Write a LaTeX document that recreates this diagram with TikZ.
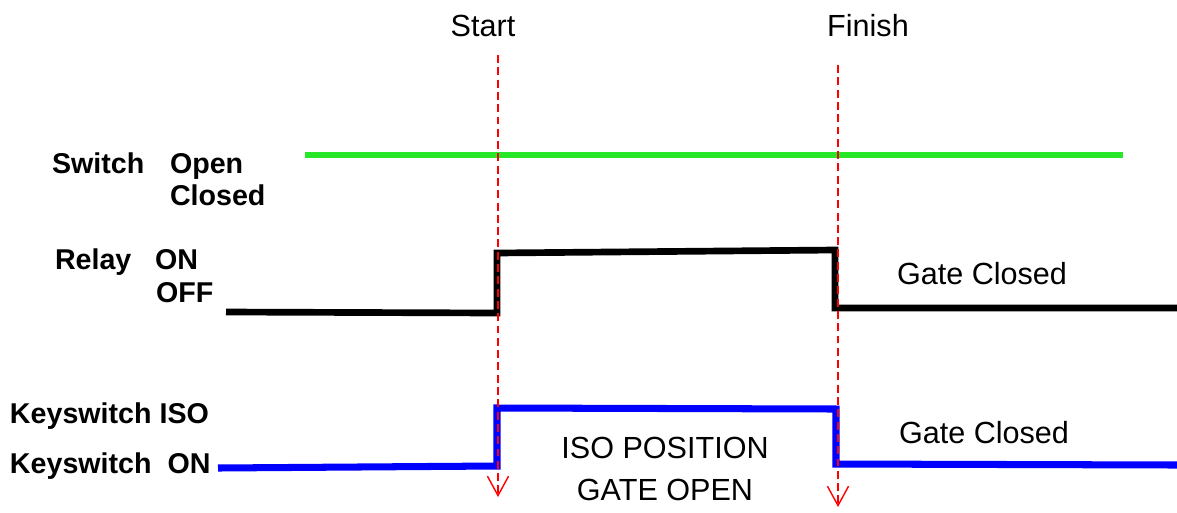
\documentclass[tikz,border=0pt]{standalone}
\usepackage{fontspec}
\setmainfont{Liberation Sans}
\usetikzlibrary{arrows.meta}
\definecolor{sigblue}{RGB}{0,0,255}
\definecolor{siggreen}{RGB}{40,230,40}
\definecolor{markred}{RGB}{255,0,0}

\begin{document}
\begin{tikzpicture}[
    x=0.02cm, y=-0.02cm,
    every node/.style={inner sep=0pt, outer sep=0pt},
    signame/.style={anchor=base west, font=\fontsize{16.3}{18}\selectfont\bfseries},
    note/.style={anchor=base, font=\fontsize{17.4}{20}\selectfont},
    trace/.style={line width=3.8pt, line join=miter},
    marker/.style={markred, line width=0.8pt, dash pattern=on 4.5pt off 2.5pt,
        -{Straight Barb[length=11pt, width=12pt, line width=0.8pt]}}
]
\useasboundingbox (0,0) rectangle (1177,512);

% event labels on top
\node[note] (start) at (483,36) {Start};
\node[note] (finish) at (868,36) {Finish};

% signal names
\node[signame] (sw) at (52,173) {Switch};
\node[signame] (swopen) at (170,173) {Open};
\node[signame] (swclosed) at (170,205) {Closed};
\node[signame] (rl) at (55,269) {Relay};
\node[signame] (rlon) at (155,269) {ON};
\node[signame] (rloff) at (156,302) {OFF};
\node[signame] (ksiso) at (10,423) {Keyswitch ISO};
\node[signame] (kson) at (10,473) {Keyswitch\ \ ON};

% texts between traces
\node[note] (gate1) at (982,284) {Gate Closed};
\node[note] (gate2) at (984,443) {Gate Closed};
\node[note] (isopos) at (665,458) {ISO POSITION};
\node[note] (gateopen) at (665,500) {GATE OPEN};

% switch trace
\draw[trace, siggreen, line width=3.6pt] (305,155) -- (1123,155);

% relay trace
\draw[trace] (226,312) -- (497,313) -- (497,253) -- (835,250)
    -- (835,308) -- (1177,308);

% keyswitch trace
\draw[trace, sigblue, line width=4pt] (218,468) -- (497,466) -- (497,408)
    -- (836,409) -- (836,464) -- (1177,465);

% start / finish markers
\coordinate (starttop) at (498,55);
\coordinate (startend) at (498,497);
\coordinate (finishtop) at (838,65);
\coordinate (finishend) at (838,507);
\draw[marker] (starttop) -- (startend);
\draw[marker] (finishtop) -- (finishend);
\end{tikzpicture}
\end{document}
